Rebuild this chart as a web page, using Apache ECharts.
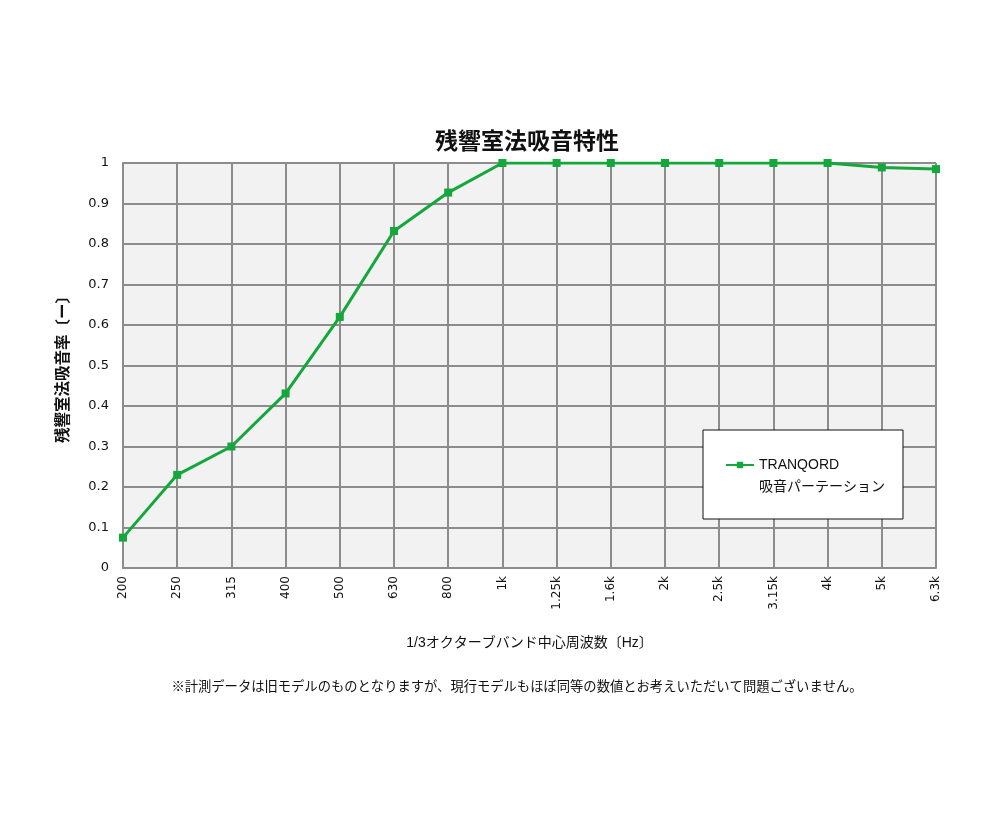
<!DOCTYPE html>
<html>
<head>
<meta charset="utf-8">
<script src="https://cdn.jsdelivr.net/npm/echarts@6/dist/echarts.min.js"></script>
<style>
  html, body { margin: 0; padding: 0; background: #fff; }
  #chart { width: 1000px; height: 824px; }
</style>
</head>
<body>
<div id="chart"></div>
<script>
// 1/3 octave band centre frequencies
const bands = ["200", "250", "315", "400", "500", "630", "800", "1k", "1.25k", "1.6k", "2k", "2.5k", "3.15k", "4k", "5k", "6.3k"];
const absorption = [0.075, 0.23, 0.3, 0.431, 0.62, 0.832, 0.927, 1, 1, 1, 1, 1, 1, 1, 0.989, 0.985];
const yTicks = [0, 0.1, 0.2, 0.3, 0.4, 0.5, 0.6, 0.7, 0.8, 0.9, 1];

const font = '"Liberation Sans", "Noto Sans CJK JP", sans-serif';
const tickFont = '"DejaVu Sans", sans-serif';
const green = "#14a83c";
const gridColor = "#8c8c8c";

const chart = echarts.init(document.getElementById("chart"));

chart.setOption({
  animation: false,
  textStyle: { fontFamily: font },
  title: [
    {
      text: "残響室法吸音特性",
      left: 522,
      top: 126,
      textAlign: "center",
      textStyle: { fontSize: 23, fontWeight: "bold", color: "#111", fontFamily: font },
    },
    {
      text: "※計測データは旧モデルのものとなりますが、現行モデルもほぼ同等の数値とお考えいただいて問題ございません。",
      left: 512,
      top: 676,
      textAlign: "center",
      textStyle: { fontSize: 13.3, fontWeight: "normal", color: "#111", fontFamily: font },
    },
  ],
  legend: {
    left: 703,
    top: 430,
    orient: "vertical",
    backgroundColor: "#fff",
    borderColor: "#111",
    borderWidth: 1,
    padding: [2, 18, 21, 22],
    itemWidth: 28,
    itemHeight: 8,
    itemGap: 0,
    // blank first line keeps the icon level with "TRANQORD"
    formatter: () => " \nTRANQORD\n吸音パーテーション",
    textStyle: { fontSize: 14, lineHeight: 22, color: "#111", fontFamily: font },
    data: [{ name: "TRANQORD" }],
  },
  grid: { left: 123, right: 64, top: 163, bottom: 256, backgroundColor: "#f2f2f2", show: true, borderColor: "#777", borderWidth: 1 },
  xAxis: {
    type: "category",
    data: bands,
    boundaryGap: false,
    name: "1/3オクターブバンド中心周波数〔Hz〕",
    nameLocation: "middle",
    nameGap: 68,
    nameTextStyle: { fontSize: 14, color: "#111" },
    axisLine: { lineStyle: { color: gridColor, width: 2 } },
    axisTick: { show: false },
    axisLabel: { rotate: 90, fontSize: 12, color: "#111", margin: 8, fontFamily: tickFont },
    splitLine: { show: true, lineStyle: { color: gridColor, width: 2 } },
  },
  yAxis: {
    type: "value",
    min: 0,
    max: 1,
    interval: 0.1,
    name: "残響室法吸音率〔ー〕",
    nameLocation: "middle",
    nameGap: 52,
    nameTextStyle: { fontSize: 15.5, fontWeight: "bold", color: "#111" },
    axisLine: { show: true, lineStyle: { color: gridColor, width: 2 } },
    axisTick: { show: false },
    axisLabel: {
      fontSize: 13,
      color: "#111",
      margin: 14,
      fontFamily: tickFont,
      formatter: (v) => {
        const t = yTicks.find((x) => Math.abs(x - v) < 1e-6);
        return t === undefined ? "" : String(t);
      },
    },
    splitLine: { show: true, lineStyle: { color: gridColor, width: 2 } },
  },
  series: [
    {
      name: "TRANQORD",
      type: "line",
      data: absorption,
      symbol: "rect",
      symbolSize: 8,
      itemStyle: { color: green },
      lineStyle: { color: green, width: 3 },
    },
  ],
});
</script>
</body>
</html>
